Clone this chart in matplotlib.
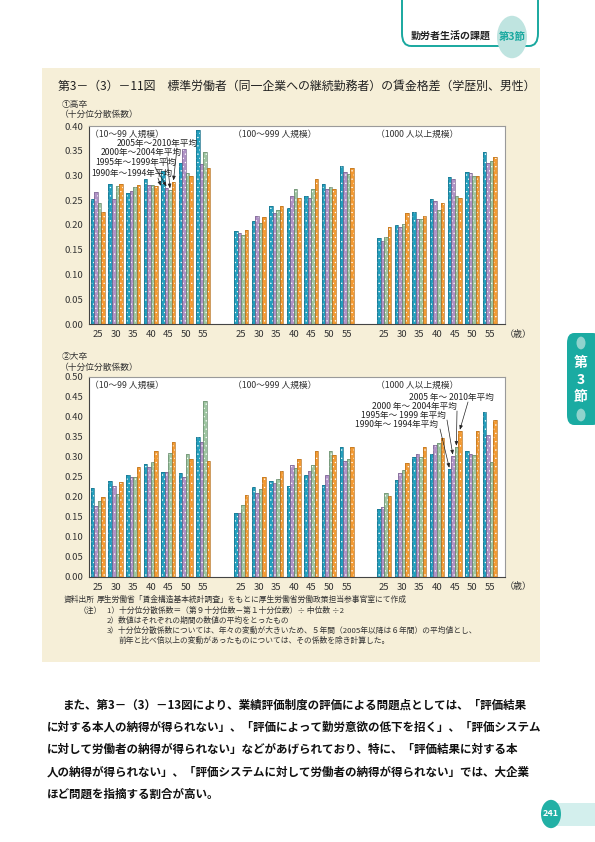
import matplotlib
matplotlib.use("Agg")
import matplotlib.pyplot as plt
from matplotlib.patches import Rectangle, FancyBboxPatch, Circle
import numpy as np

plt.rcParams['font.family'] = ['Noto Sans CJK JP', 'DejaVu Sans']
plt.rcParams['hatch.linewidth'] = 0.4

# ---------------- data ----------------
ages = [25, 30, 35, 40, 45, 50, 55]
size_groups = ['（10～99 人規模）', '（100～999 人規模）', '（1000 人以上規模）']
periods = ['1990年～1994年平均', '1995年～1999年平均', '2000年～2004年平均', '2005年～2010年平均']
periods_b = ['1990年～ 1994年平均', '1995年～ 1999 年平均', '2000 年～ 2004年平均', '2005 年～ 2010年平均']

# high school graduates (3 size groups x 7 ages)
hs_1990_94 = [0.253, 0.282, 0.264, 0.292, 0.309, 0.326, 0.391,
              0.187, 0.209, 0.238, 0.235, 0.259, 0.282, 0.320,
              0.174, 0.199, 0.226, 0.253, 0.296, 0.307, 0.347]
hs_1995_99 = [0.266, 0.252, 0.268, 0.280, 0.274, 0.353, 0.323,
              0.184, 0.219, 0.225, 0.259, 0.255, 0.272, 0.307,
              0.168, 0.196, 0.213, 0.249, 0.292, 0.305, 0.325]
hs_2000_04 = [0.245, 0.278, 0.276, 0.280, 0.270, 0.306, 0.347,
              0.180, 0.205, 0.230, 0.272, 0.272, 0.276, 0.303,
              0.176, 0.203, 0.213, 0.230, 0.259, 0.298, 0.330]
hs_2005_10 = [0.227, 0.282, 0.280, 0.278, 0.286, 0.298, 0.316,
              0.189, 0.216, 0.238, 0.254, 0.292, 0.273, 0.316,
              0.195, 0.225, 0.219, 0.245, 0.255, 0.300, 0.337]

# university graduates
un_1990_94 = [0.222, 0.240, 0.254, 0.282, 0.262, 0.259, 0.350,
              0.161, 0.224, 0.239, 0.227, 0.254, 0.229, 0.325,
              0.169, 0.242, 0.299, 0.308, 0.269, 0.314, 0.412]
un_1995_99 = [0.177, 0.228, 0.249, 0.274, 0.262, 0.249, 0.337,
              0.161, 0.209, 0.234, 0.279, 0.264, 0.254, 0.290,
              0.174, 0.259, 0.307, 0.329, 0.302, 0.307, 0.355]
un_2000_04 = [0.190, 0.207, 0.249, 0.287, 0.309, 0.307, 0.440,
              0.181, 0.219, 0.244, 0.272, 0.279, 0.316, 0.294,
              0.209, 0.268, 0.299, 0.334, 0.324, 0.304, 0.287]
un_2005_10 = [0.200, 0.237, 0.274, 0.314, 0.337, 0.294, 0.289,
              0.205, 0.249, 0.264, 0.294, 0.315, 0.304, 0.324,
              0.202, 0.284, 0.324, 0.348, 0.364, 0.366, 0.393]

colors = ['#229fbd', '#b092c6', '#9dc5a0', '#f39a32']
edges = ['#17708a', '#7a6590', '#6c8c70', '#b9731f']

W, H = 595, 842
fig = plt.figure(figsize=(W / 100, H / 100), dpi=100)
fig.patch.set_facecolor('white')


def fx(x):
    return x / W


def fy(y):
    return 1 - y / H


def ftext(x, y, s, **kw):
    kw.setdefault('va', 'center')
    return fig.text(fx(x), fy(y), s, **kw)


# beige background box
fig.patches.append(Rectangle((fx(42), fy(662)), (540 - 42) / W, (662 - 68) / H,
                             transform=fig.transFigure, facecolor='#f6efd8',
                             edgecolor='none', zorder=-10))

# header
fig.patches.append(FancyBboxPatch((fx(402), fy(46)), (538 - 402) / W, 60 / H,
                                  boxstyle='round,pad=0,rounding_size=0.015',
                                  transform=fig.transFigure, facecolor='none',
                                  edgecolor='#19a89f', lw=1.4, zorder=1))
ftext(411, 37, '勤労者生活の課題', fontsize=7.2, fontweight='bold', color='#222')
fig.patches.append(Circle((fx(512), fy(37)), 15 / W, transform=fig.transFigure,
                          facecolor='#bfe4e0', edgecolor='none', zorder=1))
ftext(512, 37, '第3節', fontsize=7.5, color='#19a89f', ha='center', fontweight='bold', zorder=2)

# side tab
fig.patches.append(FancyBboxPatch((fx(567), fy(425)), (600 - 567) / W, (425 - 333) / H,
                                  boxstyle='round,pad=0,rounding_size=0.012',
                                  transform=fig.transFigure, facecolor='#1aaba2',
                                  edgecolor='none', zorder=1))
for cy in (343, 415):
    fig.patches.append(Circle((fx(581), fy(cy)), 4.5 / W, transform=fig.transFigure,
                              facecolor='#8fd3cd', edgecolor='none', zorder=2))
for cy, ch in ((363, '第'), (380, '3'), (397, '節')):
    ftext(581, cy, ch, fontsize=10, color='white', ha='center', fontweight='bold', zorder=3)

# page number
fig.patches.append(Rectangle((fx(556), fy(826)), (595 - 556) / W, 23 / H,
                             transform=fig.transFigure, facecolor='#d3efed',
                             edgecolor='none', zorder=1))
fig.patches.append(Circle((fx(551), fy(814)), 10 / W, transform=fig.transFigure,
                          facecolor='#22b0a5', edgecolor='none', zorder=2))
ftext(551, 814, '241', fontsize=6.5, color='white', ha='center', fontweight='bold', zorder=3)

# title
ftext(58, 86, '第3－（3）－11図　標準労働者（同一企業への継続勤務者）の賃金格差（学歴別、男性）',
      fontsize=8.6, color='#222')

# ---------------- chart panels ----------------
gap = 8.15
xs = np.array([g * gap + i for g in range(3) for i in range(7)])
bw = 0.2


def panel(y0, y1, series, ymax, ylabel_top, ylabel_y):
    ax = fig.add_axes([fx(89), fy(y1), (505 - 89) / W, (y1 - y0) / H])
    ax.set_zorder(1)
    ax.set_facecolor('white')
    for k, vals in enumerate(series):
        pos = xs + (k - 1.5) * bw
        ax.bar(pos, vals, width=bw, color=colors[k], edgecolor='white', linewidth=0,
               hatch='....', zorder=2)
        ax.bar(pos, vals, width=bw, fill=False, edgecolor=edges[k], linewidth=0.5, zorder=3)
    ax.set_xlim(-0.51, 2 * gap + 6.87)
    ax.set_ylim(0, ymax)
    ticks = np.arange(0, ymax + 0.001, 0.05)
    ax.set_yticks(ticks)
    ax.set_yticklabels([f'{v:.2f}' for v in ticks])
    ax.set_xticks(xs)
    ax.set_xticklabels([str(a) for a in ages] * 3)
    ax.tick_params(length=0, labelsize=6.8, colors='#333', pad=4)
    for s in ax.spines.values():
        s.set_color('#9a9a9a')
        s.set_linewidth(0.8)
    ax.spines['left'].set_color('#444')
    ax.spines['bottom'].set_color('#444')
    for g, name in enumerate(size_groups):
        ax.text(g * gap - 0.45, ymax * 0.96, name, fontsize=6.3, color='#333', va='center')
    ftext(62, ylabel_y, ylabel_top, fontsize=6.3, color='#333')
    ftext(60, ylabel_y + 10, '（十分位分散係数）', fontsize=6.3, color='#333')
    ftext(505, y1 + 10, '（歳）', fontsize=6.5, color='#333')
    return ax


ax1 = panel(126, 324, [hs_1990_94, hs_1995_99, hs_2000_04, hs_2005_10], 0.40, '①高卒', 104)
ax2 = panel(377, 577, [un_1990_94, un_1995_99, un_2000_04, un_2005_10], 0.50, '②大卒', 357)

arrow_kw = dict(arrowstyle='-|>,head_length=0.25,head_width=0.1', lw=0.5, color='#222',
                shrinkA=0, shrinkB=0)

# top panel legend annotations (pointing to age 45, small firms)
top_lab = [(91, 173, (158, 178)), (95, 162, (155, 167)), (101, 152, (167, 157)), (117, 143, (177, 148))]
top_series = [hs_1990_94, hs_1995_99, hs_2000_04, hs_2005_10]
for k, (tx, ty, (sx, sy)) in enumerate(top_lab):
    ax1.text(fx(tx), fy(ty), periods[k], fontsize=6.2, color='#222', va='center',
             transform=fig.transFigure, zorder=5)
    xd = xs[4] + (k - 1.5) * bw
    yd = top_series[k][4] + 0.004
    if k == 0:
        xd -= 0.12
        yd = top_series[k][4] - 0.03
    ax1.annotate('', xy=(xd, yd), xycoords='data', xytext=(fx(sx), fy(sy)),
                 textcoords='figure fraction', arrowprops=arrow_kw, zorder=5)

# bottom panel legend annotations (pointing to age 45, large firms)
bot_lab = [(355, 424, (440, 429)), (361, 415, (447, 420)), (372, 406, (457, 411)), (409, 397, (468, 402))]
bot_series = [un_1990_94, un_1995_99, un_2000_04, un_2005_10]
for k, (tx, ty, (sx, sy)) in enumerate(bot_lab):
    ax2.text(fx(tx), fy(ty), periods_b[k], fontsize=6.2, color='#222', va='center',
             transform=fig.transFigure, zorder=5)
    xd = xs[18] + (k - 1.5) * bw
    yd = bot_series[k][18] + 0.004
    ax2.annotate('', xy=(xd, yd), xycoords='data', xytext=(fx(sx), fy(sy)),
                 textcoords='figure fraction', arrowprops=arrow_kw, zorder=5)

# notes
note_fs = 5.6
ftext(64, 600, '資料出所', fontsize=note_fs, color='#333')
ftext(97, 600, '厚生労働省「賃金構造基本統計調査」をもとに厚生労働省労働政策担当参事官室にて作成',
      fontsize=note_fs, color='#333')
ftext(79, 611, '（注）', fontsize=note_fs, color='#333')
ftext(107, 611, '1）十分位分散係数＝（第９十分位数－第１十分位数）÷ 中位数 ÷2', fontsize=note_fs, color='#333')
ftext(107, 621, '2）数値はそれぞれの期間の数値の平均をとったもの', fontsize=note_fs, color='#333')
ftext(107, 631, '3）十分位分散係数については、年々の変動が大きいため、５年間（2005年以降は６年間）の平均値とし、',
      fontsize=note_fs, color='#333')
ftext(119, 641, '前年と比べ倍以上の変動があったものについては、その係数を除き計算した。', fontsize=note_fs, color='#333')

# body text
body = [
    (62, 705, 'また、第3－（3）－13図により、業績評価制度の評価による問題点としては、「評価結果'),
    (47, 727, 'に対する本人の納得が得られない」、「評価によって勤労意欲の低下を招く」、「評価システム'),
    (47, 749, 'に対して労働者の納得が得られない」などがあげられており、特に、「評価結果に対する本'),
    (47, 772, '人の納得が得られない」、「評価システムに対して労働者の納得が得られない」では、大企業'),
    (47, 794, 'ほど問題を指摘する割合が高い。'),
]
for x, y, s in body:
    ftext(x, y, s, fontsize=8.3, color='#111', fontweight='bold')

fig.savefig('out.png', dpi=100)
